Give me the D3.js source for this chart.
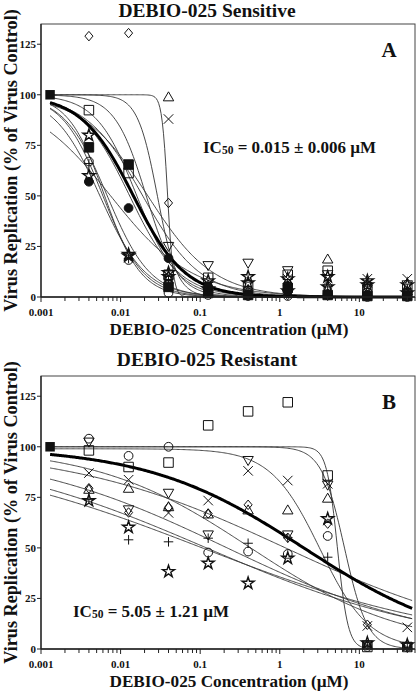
<!DOCTYPE html>
<html><head><meta charset="utf-8">
<script src="https://cdnjs.cloudflare.com/ajax/libs/d3/7.8.5/d3.min.js"></script>
<style>
html,body{margin:0;padding:0;background:#fff;}
svg text{font-family:"Liberation Serif","Times New Roman",serif;font-weight:bold;fill:#111;}
</style></head>
<body><svg id="c" width="416" height="691"></svg>
<script>
// ---------- data ----------
const conc = [0.004, 0.0126, 0.04, 0.126, 0.4, 1.26, 4, 12.6, 40];
const refConc = 0.0013, refValue = 100;
const xTickValues = [0.001, 0.01, 0.1, 1, 10];
const xTickLabels = ["0.001", "0.01", "0.1", "1", "10"];
const yTickValues = [0, 25, 50, 75, 100, 125];
const titles = ["DEBIO-025 Sensitive", "DEBIO-025 Resistant"];
const panelLetters = ["A", "B"];
const ic50Texts = [" = 0.015 \u00b1 0.006 \u00b5M", " = 5.05 \u00b1 1.21 \u00b5M"];
const xTitle = "DEBIO-025 Concentration (\u00b5M)";
const yTitle = "Virus Replication (% of Virus Control)";

// panel A measured points
const seriesAMarkers = ["diamond","squareFilled","square","triangle","triangleDown","cross","star","star","circleFilled","circle","plus"];
const seriesAValues = [
  [129, 130.5, 46.5, 2, 1, 1, 4, 1, 1],
  [74, 65.5, 5, 2, 1, 4.5, 1, 0.5, 0.5],
  [92.4, 61.3, 11, 9.5, 5, 11, 13, 3, 4],
  [null, null, 99, 6, 3, 5, 18.8, 2, 3],
  [null, null, 25, 15.5, 16.7, 13, 11, 4, 6],
  [null, null, 88, 5, 2, 9, 8, 9, 9],
  [80, 20.3, 12, 8, 10, 9, 10, 8, 6],
  [60, 21, 10, 4, 7, 3, 5, 6, 2],
  [57, 44, 19.2, 5, 1, 3, 1, 1, 0.5],
  [67, 18.3, 2, 1, 0.5, 0.5, 1, 0, 0],
  [66, 19, 8, 3, 4, 6, 5, 7, 4]
];
// panel A fitted curves: [top, bottom, IC50, hill]
const curvesA = [
  [100, 0, 0.0055, 1.5], [100, 0, 0.006, 1.7], [100, 0, 0.0063, 1.9], [100, 0, 0.0068, 1.6],
  [100, 0, 0.0075, 0.85], [100, 0, 0.013, 1.4], [100, 0, 0.016, 1.7], [100, 0, 0.019, 1.2],
  [100, 0, 0.022, 1.05], [100, 0, 0.021, 2.2], [100, 0, 0.029, 3.5], [100, 0, 0.039, 12]
];
const meanCurveA = [100, 0, 0.0145, 1.33];

// panel B measured points
const seriesBMarkers = ["circle","triangleDown","square","cross","triangle","diamond","star","plus"];
const seriesBValues = [
  [104, 95.5, 100, 47.7, 48.2, 47, 55.9, 1, 1],
  [102.3, 68.8, 77, 56.4, 93.2, 56.4, 81, 2, 1],
  [98.2, 90, 92.2, 110.6, 117.5, 122, 85.8, 1, 1],
  [87, 83.7, 67.3, 73.4, 88.1, 83.3, 81.7, 11.4, 10.7],
  [79, 79.5, 70.4, 66.8, 68.8, 68.8, 74.6, 2, 2],
  [79.5, 67.5, 70.1, 67, 71.3, 55, 62, 12, 2],
  [73.4, 60.2, 38.3, 42.4, 32.5, 44.9, 64.4, 3, 2],
  [74, 54, 53, 54.8, 52.3, 55, 45.4, 2, 1]
];
const curvesB = [
  [100, 0, 0.218, 0.324], [100, 0, 0.12, 0.292], [100, 0, 0.106, 0.263], [100, 0, 1.18, 0.315],
  [100, 0, 0.43, 0.447], [100, 0, 5.3, 6.5], [100, 0, 6.5, 3], [99, 0, 3.2, 1.4]
];
const meanCurveB = [100, 0, 2.0, 0.44];

// ---------- drawing ----------
const svg = d3.select("#c");
const L = 41, R = 415;
const panels = [
  {top: 24, bottom: 297, titleY: 17, pts: seriesAValues, mk: seriesAMarkers, curves: curvesA, mean: meanCurveA, icX: 203, icY: 153},
  {top: 376, bottom: 649, titleY: 366, pts: seriesBValues, mk: seriesBMarkers, curves: curvesB, mean: meanCurveB, icX: 73, icY: 617}
];

function fourPL(x, p) { return p[1] + (p[0] - p[1]) / (1 + Math.pow(x / p[2], p[3])); }

function markerPath(type, s) {
  const h = s / 2;
  switch (type) {
    case "square": case "squareFilled": return d3.symbol(d3.symbolSquare, s * s)();
    case "circle": case "circleFilled": return d3.symbol(d3.symbolCircle, Math.PI * h * h * 0.85)();
    case "triangle": return `M0,${-h*1.05}L${h*1.1},${h*0.85}L${-h*1.1},${h*0.85}Z`;
    case "triangleDown": return `M0,${h*1.05}L${h*1.1},${-h*0.85}L${-h*1.1},${-h*0.85}Z`;
    case "diamond": return `M0,${-h}L${h*0.85},0L0,${h}L${-h*0.85},0Z`;
    case "cross": return `M${-h},${-h}L${h},${h}M${-h},${h}L${h},${-h}`;
    case "plus": return `M${-h},0L${h},0M0,${-h}L0,${h}`;
    case "star": return d3.symbol(d3.symbolStar, s * s * 0.5)();
  }
}

panels.forEach((P, i) => {
  const x = d3.scaleLog().domain([0.001, 50]).range([L, R]);
  const y = d3.scaleLinear().domain([0, 135]).range([P.bottom, P.top]);
  const g = svg.append("g");

  g.append("rect").attr("x", L).attr("y", P.top).attr("width", R - L).attr("height", P.bottom - P.top)
    .attr("fill", "none").attr("stroke", "#444").attr("stroke-width", 1);

  const clipId = "clip" + i;
  svg.append("clipPath").attr("id", clipId).append("rect")
    .attr("x", L).attr("y", P.top).attr("width", R - L).attr("height", P.bottom - P.top + 6);

  const xs = d3.range(0, 301).map(k => Math.pow(10, Math.log10(refConc) + k / 300 * (Math.log10(46) - Math.log10(refConc))));
  const line = d3.line().x(d => x(d[0])).y(d => y(d[1]));
  const cg = g.append("g").attr("clip-path", `url(#${clipId})`);
  P.curves.forEach(p => {
    cg.append("path").attr("d", line(xs.map(v => [v, fourPL(v, p)])))
      .attr("fill", "none").attr("stroke", "#333").attr("stroke-width", 0.9);
  });
  cg.append("path").attr("d", line(xs.map(v => [v, fourPL(v, P.mean)])))
    .attr("fill", "none").attr("stroke", "#000").attr("stroke-width", 3);

  const mg = g.append("g");
  P.pts.forEach((vals, si) => {
    const type = P.mk[si];
    vals.forEach((v, k) => {
      if (v === null) return;
      const filled = type.endsWith("Filled");
      mg.append("path").attr("d", markerPath(type, 9.5))
        .attr("transform", `translate(${x(conc[k])},${y(v)})`)
        .attr("fill", filled ? "#111" : "none")
        .attr("stroke", "#111").attr("stroke-width", type === "star" ? 1.4 : 1);
    });
  });
  mg.append("path").attr("d", markerPath("squareFilled", 9.5))
    .attr("transform", `translate(${x(refConc)},${y(refValue)})`).attr("fill", "#111");

  const minor = [];
  for (let d = 0.001; d < 50; d *= 10) for (let m = 2; m <= 9; m++) if (d * m <= 50) minor.push(d * m);
  const xa = g.append("g").attr("transform", `translate(0,${P.bottom})`);
  xa.append("line").attr("x1", L).attr("x2", R).attr("stroke", "#222").attr("stroke-width", 1.3);
  xa.selectAll(".mj").data(xTickValues).enter().append("line")
    .attr("x1", d => x(d)).attr("x2", d => x(d)).attr("y1", 0).attr("y2", 5).attr("stroke", "#222");
  xa.selectAll(".mn").data(minor).enter().append("line")
    .attr("x1", d => x(d)).attr("x2", d => x(d)).attr("y1", 0).attr("y2", 4).attr("stroke", "#222");
  xa.selectAll("text").data(xTickValues).enter().append("text")
    .attr("x", d => x(d)).attr("y", 19).attr("text-anchor", "middle").attr("font-size", 11)
    .text((d, k) => xTickLabels[k]);

  const ya = g.append("g").attr("transform", `translate(${L},0)`);
  ya.append("line").attr("y1", P.top).attr("y2", P.bottom).attr("stroke", "#222").attr("stroke-width", 1.3);
  ya.selectAll("line.t").data(yTickValues).enter().append("line")
    .attr("x1", -4).attr("x2", 0).attr("y1", d => y(d)).attr("y2", d => y(d)).attr("stroke", "#222");
  ya.selectAll("text").data(yTickValues).enter().append("text")
    .attr("x", -5).attr("y", d => y(d) + 4).attr("text-anchor", "end").attr("font-size", 11)
    .text(d => d);

  g.append("text").attr("x", 207).attr("y", P.titleY).attr("text-anchor", "middle")
    .attr("font-size", 19.5).text(titles[i]);
  g.append("text").attr("x", 229).attr("y", P.bottom + 38).attr("text-anchor", "middle")
    .attr("font-size", 17.2).text(xTitle);
  g.append("text").attr("transform", `translate(17,${(P.top + P.bottom) / 2}) rotate(-90)`)
    .attr("text-anchor", "middle").attr("font-size", 18.2).text(yTitle);
  g.append("text").attr("x", 389).attr("y", P.top + 33).attr("text-anchor", "middle")
    .attr("font-size", 21).text(panelLetters[i]);
  const ic = g.append("text").attr("x", P.icX).attr("y", P.icY).attr("font-size", 17);
  ic.append("tspan").text("IC");
  ic.append("tspan").attr("font-size", 11.5).attr("dy", 1).text("50");
  ic.append("tspan").attr("dy", -1).text(ic50Texts[i]);
});
</script></body></html>
